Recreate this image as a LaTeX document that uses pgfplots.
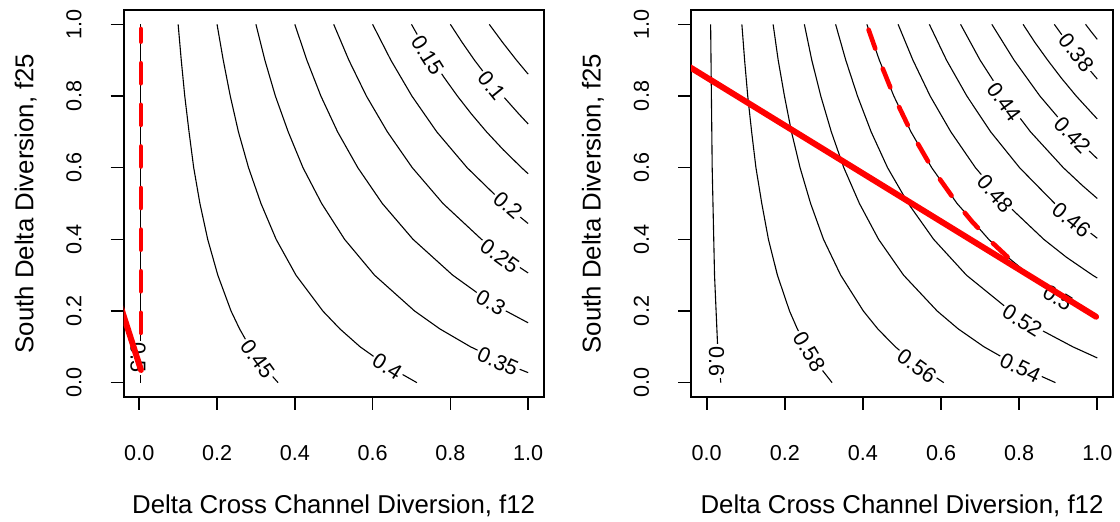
\documentclass[border=0pt]{standalone}
\usepackage{fontspec}
\setmainfont{Liberation Sans}
\usepackage{pgfplots}
\pgfplotsset{compat=1.18}

\definecolor{rred}{RGB}{255,0,0}

\pgfplotsset{
  contourpanel/.style={
    scale only axis, width=210pt, height=193.5pt,
    xmin=-0.04, xmax=1.04, ymin=-0.04, ymax=1.04,
    xtick={0,0.2,0.4,0.6,0.8,1}, xticklabels={0.0,0.2,0.4,0.6,0.8,1.0},
    ytick={0,0.2,0.4,0.6,0.8,1}, yticklabels={0.0,0.2,0.4,0.6,0.8,1.0},
    xtick pos=bottom, ytick pos=left,
    tick align=outside, major tick length=6.5pt,
    axis line style={line width=0.8pt},
    every tick/.style={black, line width=0.8pt},
    tick label style={font=\fontsize{10.8}{12}\selectfont},
    xticklabel style={anchor=north, inner sep=0pt},
    xticklabel shift=17.75pt,
    yticklabel style={rotate=90, anchor=south, inner sep=0pt},
    yticklabel shift=14.35pt,
    xlabel={Delta Cross Channel Diversion, f12},
    ylabel={South Delta Diversion, f25},
    every axis x label/.style={at={(axis description cs:0.5,0)}, yshift=-58.5pt,
      anchor=base, font=\fontsize{12.9}{15}\selectfont},
    every axis y label/.style={at={(axis description cs:0,0.5)}, xshift=-45.2pt,
      rotate=90, anchor=base, font=\fontsize{12.9}{15}\selectfont},
  },
  ctr/.style={black, line width=0.55pt, no marks},
  rsolid/.style={rred, line width=3pt, line cap=round, no marks},
  rdash/.style={rred, line width=2.3pt, line cap=round, dash pattern=on 10pt off 10.8pt, no marks},
}
\tikzset{clab/.style={fill=white, inner sep=1pt, font=\fontsize{10.8}{12}\selectfont}}

\begin{document}
\begin{tikzpicture}
\useasboundingbox (0,0) rectangle (560pt,-261pt);

% left panel
\begin{axis}[contourpanel, at={(61.85pt,-198.5pt)}, anchor=south west]
  \addplot[ctr] coordinates {(0.004,0) (0.004,1)};
  \addplot[ctr] coordinates {(0.357,0) (0.316,0.05) (0.284,0.1) (0.258,0.15) (0.236,0.2) (0.202,0.3) (0.176,0.4) (0.156,0.5) (0.140,0.6) (0.128,0.7) (0.117,0.8) (0.108,0.9) (0.100,1)};
  \addplot[ctr] coordinates {(0.714,0) (0.633,0.05) (0.568,0.1) (0.516,0.15) (0.472,0.2) (0.403,0.3) (0.352,0.4) (0.313,0.5) (0.281,0.6) (0.255,0.7) (0.234,0.8) (0.216,0.9) (0.2,1)};
  \addplot[ctr] coordinates {(1,0.028) (0.949,0.05) (0.852,0.1) (0.773,0.15) (0.708,0.2) (0.605,0.3) (0.528,0.4) (0.469,0.5) (0.421,0.6) (0.383,0.7) (0.350,0.8) (0.323,0.9) (0.3,1)};
  \addplot[ctr] coordinates {(1,0.167) (0.943,0.2) (0.870,0.25) (0.806,0.3) (0.704,0.4) (0.625,0.5) (0.562,0.6) (0.510,0.7) (0.467,0.8) (0.431,0.9) (0.4,1)};
  \addplot[ctr] coordinates {(1,0.306) (0.940,0.35) (0.880,0.4) (0.781,0.5) (0.702,0.6) (0.638,0.7) (0.584,0.8) (0.539,0.9) (0.5,1)};
  \addplot[ctr] coordinates {(1,0.444) (0.9375,0.5) (0.843,0.6) (0.765,0.7) (0.701,0.8) (0.647,0.9) (0.6,1)};
  \addplot[ctr] coordinates {(1,0.583) (0.983,0.6) (0.936,0.65) (0.893,0.7) (0.854,0.75) (0.818,0.8) (0.785,0.85) (0.754,0.9) (0.726,0.95) (0.7,1)};
  \addplot[ctr] coordinates {(1,0.722) (0.976,0.75) (0.935,0.8) (0.897,0.85) (0.862,0.9) (0.830,0.95) (0.8,1)};
  \addplot[ctr] coordinates {(1,0.861) (0.970,0.9) (0.934,0.95) (0.9,1)};

  \node[clab, rotate=-90] at (axis cs:-0.003,0.070) {0.5};
  \node[clab, rotate=-54] at (axis cs:0.304,0.066) {0.45};
  \node[clab, rotate=-32] at (axis cs:0.638,0.045) {0.4};
  \node[clab, rotate=-24] at (axis cs:0.922,0.059) {0.35};
  \node[clab, rotate=-30] at (axis cs:0.904,0.224) {0.3};
  \node[clab, rotate=-36] at (axis cs:0.927,0.354) {0.25};
  \node[clab, rotate=-41] at (axis cs:0.948,0.495) {0.2};
  \node[clab, rotate=-58] at (axis cs:0.742,0.914) {0.15};
  \node[clab, rotate=-51] at (axis cs:0.906,0.828) {0.1};

  \addplot[rdash] coordinates {(0.004,0.139) (0.004,0.987)};
  \addplot[rsolid] coordinates {(-0.06,0.254) (0.0044,0.0354)};
\end{axis}

% right panel
\begin{axis}[contourpanel, width=210.9pt, at={(345.55pt,-198.5pt)}, anchor=south west]
  \addplot[ctr] coordinates {(0.036,0) (0.032,0.05) (0.028,0.1) (0.024,0.2) (0.020,0.3) (0.018,0.4) (0.016,0.5) (0.014,0.6) (0.013,0.7) (0.012,0.8) (0.011,0.9) (0.010,1)};
  \addplot[ctr] coordinates {(0.321,0) (0.285,0.05) (0.256,0.1) (0.232,0.15) (0.212,0.2) (0.181,0.3) (0.158,0.4) (0.141,0.5) (0.126,0.6) (0.115,0.7) (0.105,0.8) (0.097,0.9) (0.090,1)};
  \addplot[ctr] coordinates {(0.607,0) (0.538,0.05) (0.483,0.1) (0.438,0.15) (0.401,0.2) (0.343,0.3) (0.299,0.4) (0.266,0.5) (0.239,0.6) (0.217,0.7) (0.199,0.8) (0.183,0.9) (0.170,1)};
  \addplot[ctr] coordinates {(0.893,0) (0.791,0.05) (0.710,0.1) (0.644,0.15) (0.590,0.2) (0.504,0.3) (0.440,0.4) (0.391,0.5) (0.351,0.6) (0.319,0.7) (0.292,0.8) (0.269,0.9) (0.25,1)};
  \addplot[ctr] coordinates {(1,0.069) (0.9375,0.1) (0.851,0.15) (0.778,0.2) (0.665,0.3) (0.581,0.4) (0.516,0.5) (0.463,0.6) (0.421,0.7) (0.386,0.8) (0.356,0.9) (0.33,1)};
  \addplot[ctr] coordinates {(1,0.181) (0.967,0.2) (0.891,0.25) (0.827,0.3) (0.771,0.35) (0.722,0.4) (0.641,0.5) (0.576,0.6) (0.523,0.7) (0.479,0.8) (0.442,0.9) (0.41,1)};
  \addplot[ctr] coordinates {(1,0.292) (0.988,0.3) (0.921,0.35) (0.863,0.4) (0.766,0.5) (0.688,0.6) (0.625,0.7) (0.572,0.8) (0.528,0.9) (0.49,1)};
  \addplot[ctr] coordinates {(1,0.403) (0.944,0.45) (0.891,0.5) (0.801,0.6) (0.727,0.7) (0.666,0.8) (0.614,0.9) (0.57,1)};
  \addplot[ctr] coordinates {(1,0.514) (0.962,0.55) (0.913,0.6) (0.829,0.7) (0.759,0.8) (0.700,0.9) (0.65,1)};
  \addplot[ctr] coordinates {(1,0.625) (0.976,0.65) (0.931,0.7) (0.853,0.8) (0.787,0.9) (0.73,1)};
  \addplot[ctr] coordinates {(1,0.736) (0.988,0.75) (0.946,0.8) (0.908,0.85) (0.873,0.9) (0.840,0.95) (0.81,1)};
  \addplot[ctr] coordinates {(1,0.847) (0.998,0.85) (0.959,0.9) (0.923,0.95) (0.89,1)};
  \addplot[ctr] coordinates {(1,0.958) (0.984,0.98) (0.97,1)};

  \node[clab, rotate=-90] at (axis cs:0.025,0.060) {0.6};
  \node[clab, rotate=-59] at (axis cs:0.262,0.0865) {0.58};
  \node[clab, rotate=-36] at (axis cs:0.538,0.047) {0.56};
  \node[clab, rotate=-26] at (axis cs:0.803,0.042) {0.54};
  \node[clab, rotate=-32] at (axis cs:0.808,0.1735) {0.52};
  \node[clab, rotate=-32] at (axis cs:0.899,0.236) {0.5};
  \node[clab, rotate=-49] at (axis cs:0.738,0.528) {0.48};
  \node[clab, rotate=-39] at (axis cs:0.934,0.454) {0.46};
  \node[clab, rotate=-54] at (axis cs:0.761,0.784) {0.44};
  \node[clab, rotate=-46] at (axis cs:0.936,0.691) {0.42};
  \node[clab, rotate=-52] at (axis cs:0.947,0.921) {0.38};

  \addplot[rdash] coordinates {(0.4145,0.985) (0.442,0.9) (0.479,0.8) (0.523,0.7) (0.576,0.6) (0.641,0.5) (0.679,0.45) (0.722,0.4) (0.771,0.35) (0.792,0.33)};
  \addplot[rsolid] coordinates {(-0.06,0.8917) (0.997,0.184)};
\end{axis}
\end{tikzpicture}
\end{document}
